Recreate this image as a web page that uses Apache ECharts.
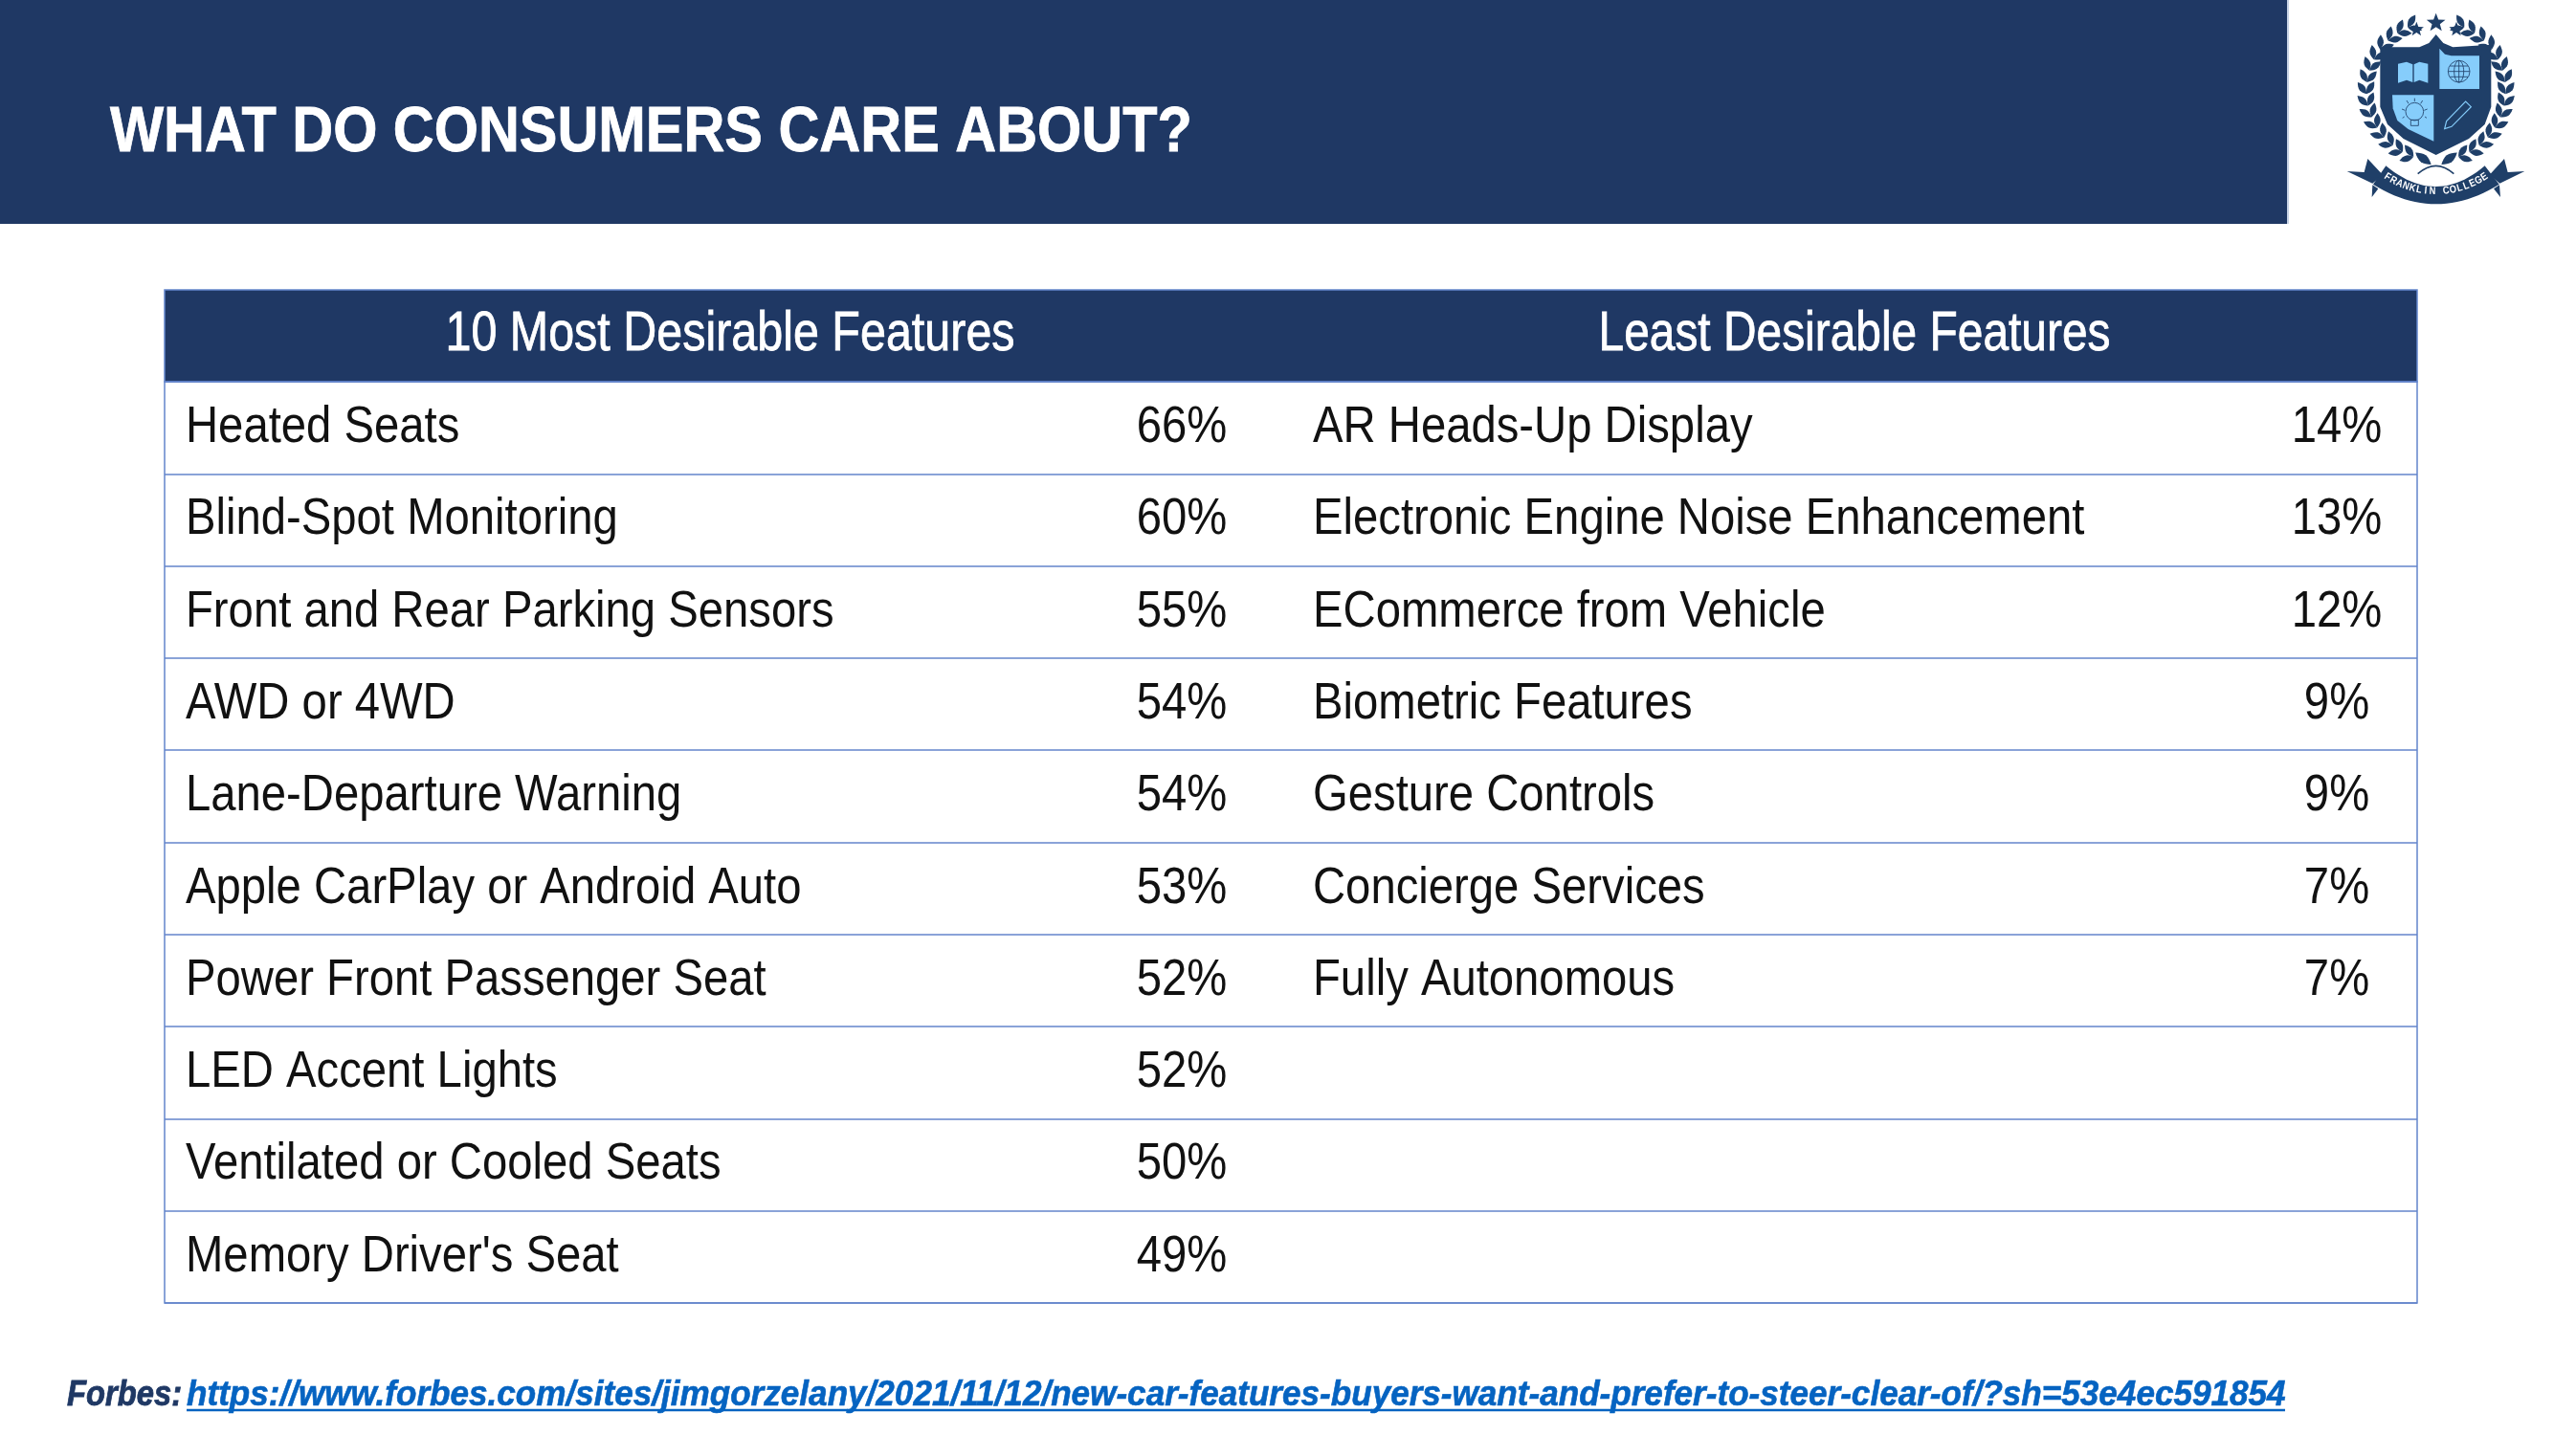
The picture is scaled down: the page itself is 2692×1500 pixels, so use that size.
<!DOCTYPE html>
<html><head><meta charset="utf-8">
<style>html,body{margin:0;padding:0;background:#fff}#c{width:2692px;height:1500px}</style>
<script src="https://cdn.jsdelivr.net/npm/echarts@6/dist/echarts.min.js"></script>
</head><body><div id="c"></div>
<script>
const slideTitle = "WHAT DO CONSUMERS CARE ABOUT?";
const headers = ["10 Most Desirable Features", "Least Desirable Features"];
const mostFeatures = ["Heated Seats","Blind-Spot Monitoring","Front and Rear Parking Sensors","AWD or 4WD","Lane-Departure Warning","Apple CarPlay or Android Auto","Power Front Passenger Seat","LED Accent Lights","Ventilated or Cooled Seats","Memory Driver's Seat"];
const mostValues = [66,60,55,54,54,53,52,52,50,49];
const leastFeatures = ["AR Heads-Up Display","Electronic Engine Noise Enhancement","ECommerce from Vehicle","Biometric Features","Gesture Controls","Concierge Services","Fully Autonomous"];
const leastValues = [14,13,12,9,9,7,7];
const sourceName = "Forbes:";
const sourceUrl = "https://www.forbes.com/sites/jimgorzelany/2021/11/12/new-car-features-buyers-want-and-prefer-to-steer-clear-of/?sh=53e4ec591854";

const NAVY='#1F3864', LOGO='#1F3F68', SKY='#86CDFB', LINE='#6385CB';
const FONT='"Liberation Sans",sans-serif';
const T={l:172,r:2526,head:303,top:399,bottom:1362};
const rowIdx=mostFeatures.map((_,i)=>i);

const tableRows=[];
mostFeatures.forEach((n,i)=>tableRows.push([194-T.l,i,n,'left']));
mostValues.forEach((v,i)=>tableRows.push([1235-T.l,i,v+'%','center']));
leastFeatures.forEach((n,i)=>tableRows.push([1372-T.l,i,n,'left']));
leastValues.forEach((v,i)=>tableRows.push([2442-T.l,i,v+'%','center']));

function star(cx,cy,r){let p=[];for(let i=0;i<10;i++){const a=-Math.PI/2+i*Math.PI/5,q=i%2?r*.42:r;p.push([cx+q*Math.cos(a),cy+q*Math.sin(a)]);}return {type:'polygon',shape:{points:p},style:{fill:LOGO}};}
function leaf(x,y,ang,len,w){const c=Math.cos(ang),s=Math.sin(ang);
 const pts=[];for(let t=0;t<=8;t++){const u=t/8,b=Math.sin(u*Math.PI)*w;pts.push([x+c*len*u-s*b,y+s*len*u+c*b]);}
 for(let t=7;t>0;t--){const u=t/8,b=Math.sin(u*Math.PI)*w;pts.push([x+c*len*u+s*b,y+s*len*u-c*b]);}
 return {type:'polygon',shape:{points:pts},style:{fill:LOGO}};}
function poly(points,fill){return {type:'polygon',shape:{points},style:{fill}};}
function curve(x1,y1,cx,cy,x2,y2,style){return {type:'bezierCurve',shape:{x1,y1,cpx1:cx,cpy1:cy,x2,y2},style};}
function quad(p0,p1,p2,n){const o=[];for(let i=0;i<=n;i++){const t=i/n,u=1-t;o.push([u*u*p0[0]+2*u*t*p1[0]+t*t*p2[0],u*u*p0[1]+2*u*t*p1[1]+t*t*p2[1]]);}return o;}

function logoChildren(){
 const ch=[];
 const cx=497,cy=285,R=218;
 for(const side of [-1,1]){
  for(let i=0;i<15;i++){
   const a=(-66+i*9.8)*Math.PI/180;
   const px=cx+side*R*Math.cos(a), py=cy+R*Math.sin(a);
   const tang=side>0?a-Math.PI/2:Math.PI-a+Math.PI/2;
   ch.push(leaf(px,py,tang+.6,46,10));
   ch.push(leaf(px,py,tang-.6,46,10));
  }
 }
 const thin={fill:'none',stroke:LOGO,lineWidth:5};
 ch.push(curve(440,545,497,495,553,545,thin));
 ch.push(leaf(482,516,Math.PI+.65,62,13),leaf(514,516,-.65,62,13));
 ch.push(star(497,72,31),star(436,92,24),star(561,92,24));
 ch.push(poly([[322,148],[445,148],[475,135],[497,108],[520,135],[550,148],[670,140],[670,335],[650,390],[600,435],[497,486],[395,435],[345,390],[322,335]],LOGO));
 ch.push(poly([[508,152],[525,170],[545,175],[633,175],[633,279],[508,279]],SKY));
 ch.push(poly([[360,298],[490,298],[490,443],[410,405],[376,378],[362,340]],SKY));
 ch.push(poly([[378,200],[405,194],[424,202],[424,258],[405,251],[378,260]],SKY),poly([[472,200],[445,194],[428,202],[428,258],[445,251],[472,260]],SKY));
 const gl={fill:'none',stroke:LOGO,lineWidth:2.5};
 ch.push({type:'circle',shape:{cx:569,cy:224,r:34},style:gl},{type:'ellipse',shape:{cx:569,cy:224,rx:15,ry:34},style:gl},
   {type:'line',shape:{x1:569,y1:190,x2:569,y2:258},style:gl},{type:'line',shape:{x1:535,y1:224,x2:603,y2:224},style:gl},
   {type:'line',shape:{x1:541,y1:207,x2:597,y2:207},style:gl},{type:'line',shape:{x1:541,y1:241,x2:597,y2:241},style:gl});
 ch.push({type:'circle',shape:{cx:430,cy:350,r:28},style:gl},{type:'rect',shape:{x:418,y:376,width:24,height:18},style:gl});
 [[430,308,430,318],[405,315,411,325],[455,315,449,325],[390,342,400,346],[470,342,460,346],[398,366,392,370],[462,366,468,370]].forEach(l=>ch.push({type:'line',shape:{x1:l[0],y1:l[1],x2:l[2],y2:l[3]},style:gl}));
 ch.push({type:'polygon',shape:{points:[[524,404],[530,380],[590,318],[607,335],[546,397]]},style:{fill:'none',stroke:SKY,lineWidth:3.5}});
 // ribbon
 ch.push(poly([[298,575],[218,537],[272,540],[283,498],[330,548]],LOGO));
 ch.push(poly([[697,575],[775,537],[722,540],[711,498],[665,548]],LOGO));
 ch.push(poly([[296,618],[316,592],[298,580]],LOGO),poly([[699,618],[678,592],[696,580]],LOGO));
 const top=quad([340,520],[497,650],[650,520],24), bot=quad([695,578],[497,702],[300,578],24);
 ch.push(poly(top.concat(bot),LOGO));
 'FRANKLIN COLLEGE'.split('').forEach((c,i)=>{
   const a=(-33+i*4.4)*Math.PI/180, r=279;
   ch.push({type:'text',x:497+r*Math.sin(a),y:321+r*Math.cos(a),rotation:a,scaleX:.85,
     style:{text:c,fill:'#fff',font:'bold 33px "Liberation Sans"',align:'center',verticalAlign:'middle'}});
 });
 return ch;
}

const chart=echarts.init(document.getElementById('c'),null,{renderer:'canvas'});
const textScale=0.875;
chart.setOption({
 animation:false,
 backgroundColor:'#fff',
 grid:{left:T.l,top:T.top,width:T.r-T.l,height:T.bottom-T.top,containLabel:false,show:true,borderColor:LINE,borderWidth:1.5,backgroundColor:'transparent'},
 xAxis:{type:'value',min:0,max:T.r-T.l,show:false},
 yAxis:{type:'category',inverse:true,data:rowIdx,axisLabel:{show:false},axisTick:{show:false},axisLine:{show:false},
   splitLine:{show:true,lineStyle:{color:LINE,width:1.5}}},
 series:[
  {type:'custom',coordinateSystem:'cartesian2d',data:tableRows,clip:false,silent:true,encode:{x:0,y:1},
   renderItem:(p,api)=>{
     const pt=api.coord([api.value(0),api.value(1)]);
     return {type:'text',x:pt[0],y:pt[1],scaleX:textScale,style:{text:String(tableRows[p.dataIndex][2]),fill:'#111',font:'54px '+FONT,align:tableRows[p.dataIndex][3],verticalAlign:'middle'}};
   }},
  {type:'custom',coordinateSystem:'none',data:[[0]],silent:true,clip:false,
   renderItem:()=>({type:'group',x:2380,y:0,scaleX:1/3,scaleY:1/3,children:logoChildren()})}
 ],
 graphic:{elements:[
  {type:'rect',shape:{x:0,y:0,width:2390,height:234},style:{fill:NAVY}},
  {type:'rect',shape:{x:2390,y:0,width:2,height:234},style:{fill:'#C9D4E6'}},
  {type:'text',x:115,y:140,scaleX:.9,style:{text:slideTitle,fill:'#fff',font:'bold 66px '+FONT,verticalAlign:'middle',stroke:'#fff',lineWidth:.8}},
  {type:'rect',shape:{x:T.l,y:T.head,width:T.r-T.l,height:T.top-T.head},style:{fill:NAVY,stroke:LINE,lineWidth:1.5}},
  {type:'text',x:763,y:350,scaleX:.85,style:{text:headers[0],fill:'#fff',font:'57px '+FONT,align:'center',verticalAlign:'middle',stroke:'#fff',lineWidth:.8}},
  {type:'text',x:1938,y:350,scaleX:.84,style:{text:headers[1],fill:'#fff',font:'57px '+FONT,align:'center',verticalAlign:'middle',stroke:'#fff',lineWidth:.8}},
  {type:'text',x:70,y:1459,scaleX:.91,style:{text:sourceName,fill:NAVY,font:'italic bold 36px '+FONT,verticalAlign:'middle',stroke:NAVY,lineWidth:.8}},
  {type:'text',x:195,y:1459,scaleX:.975,style:{text:sourceUrl,fill:'#0563C1',font:'italic bold 36px '+FONT,verticalAlign:'middle',stroke:'#0563C1',lineWidth:.6}},
  {type:'line',shape:{x1:195,y1:1474,x2:2388,y2:1474},style:{stroke:'#0563C1',lineWidth:2.5}}
 ]}
});
</script></body></html>
